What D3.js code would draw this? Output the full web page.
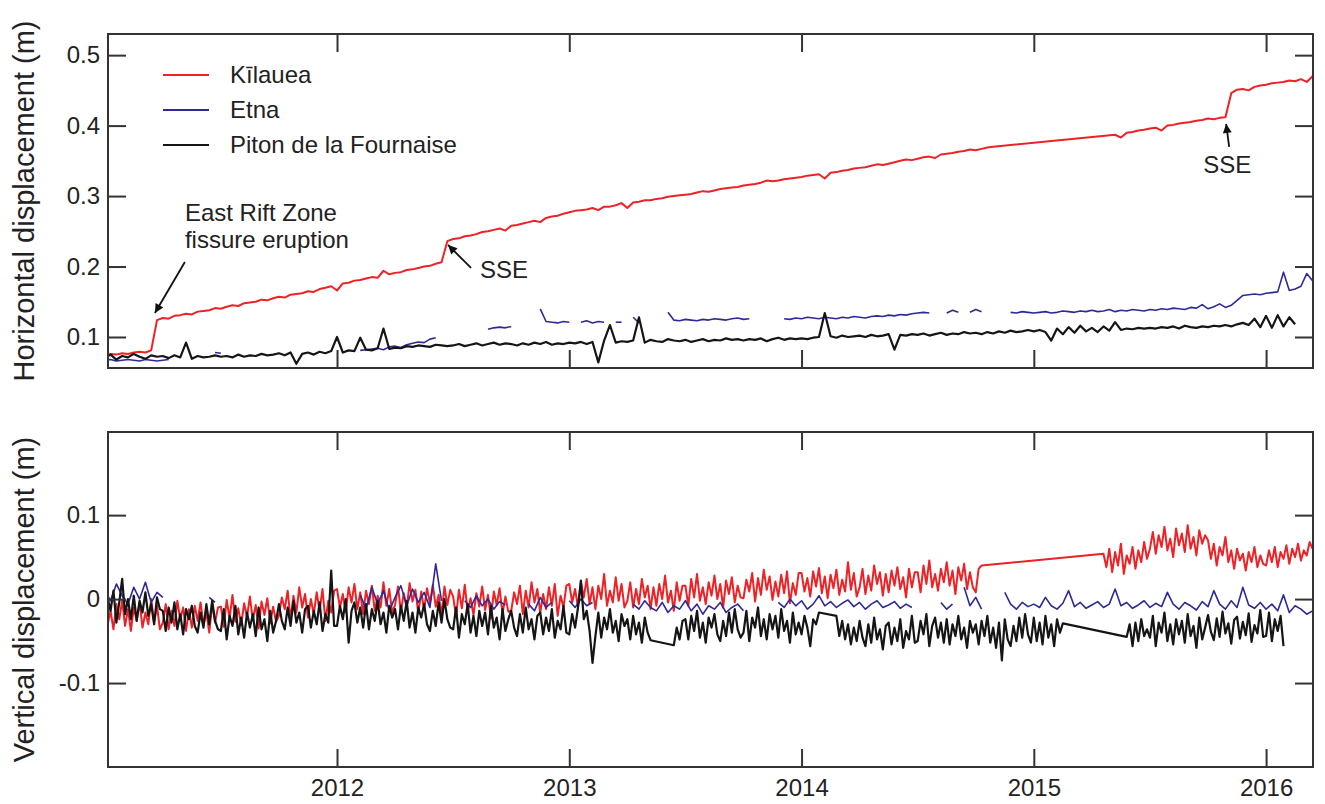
<!DOCTYPE html>
<html>
<head>
<meta charset="utf-8">
<script src="https://cdnjs.cloudflare.com/ajax/libs/d3/7.8.5/d3.min.js"></script>
<style>
  body { margin: 0; background: #fff; }
  text { font-family: "Liberation Sans", Arial, Helvetica, sans-serif; fill: #222; }
</style>
</head>
<body>
<svg id="chart" width="1325" height="804"></svg>
<script>
// each series is a list of runs [first sample index, values in mm];
// sample k of a run sits at T0 + step * (index + k)
const T0 = 2011.0, STEP = 0.025, STEP_FINE = 0.0125;

const kilaueaH = [
  [0, [74,76,75,77,76,78,79,78,81,124,
       127,126,130,131,133,132,136,137,138,141,140,143,145,144,148,149,150,153,152,155,
       157,156,160,161,162,165,164,168,170,172,
       166,176,177,180,181,183,185,184,194,189,191,192,195,196,198,200,201,204,206,236,
       239,240,243,244,246,249,250,252,254,251,258,259,261,263,265,263,269,271,272,275,277,
       279,280,281,283,280,285,285,287,290,283,291,292,294,294,296,297,299,300,301,302,
       303,305,307,306,308,310,311,312,313,315,316,317,319,322,321,322,324,325,326,327,
       329,330,331,325,333,334,336,337,339,340,341,343,345,344,346,348,350,352,351,353,
       355,356,354,359,360,361,363,364,366,365,367,369,370]],
  [174, [387,383,390,391,393,394,396,397,393,400,401,403,404,405,407,408,410,409,411,412,
         446,451,452,450,455,457,458,460,461,462,464,463,466,462,470]]
];
const etnaH = [
  [0, [67,68,66,67,68,67,66,68,67,66,67,68]],
  [19, [78,77]],
  [44, [81,82,83,84,82,86,87,85,89,91,93,92,97,99]],
  [66, [111,113,114,113,115]],
  [75, [140,122,121,120,122,121]],
  [82, [121,123,120,122,121]],
  [88, [121,121]],
  [91, [128,120]],
  [97, [135,124,123,125,124,123,125,124,126,125,124,126,127,125,126]],
  [117, [126,125,127,126,128,127,126,128,127,126,128,127,129,128,127,129,130,129,131,130,
         132,131,133,134,135,134]],
  [145, [134,138,135]],
  [149, [135,139,136]],
  [156, [135,134,136,135,134,135,136,134,135,137,136,135,137,136,138,
         136,137,139,136,138,137,139,138,137,139,138,140,139,141,140,139,142,141,146,140,
         143,147,142,145,152,159,160,161,160,162,163,164,192,166,168,172,190,180]]
];
const pitonH = [
  [0, [70,75,68,73,71,76,72,69,74,72, 73,70,74,71,92,69,73,71,72,74,
       72,73,71,75,72,74,73,76,74,75, 77,74,78,62,76,78,75,79,77,80,
       100,78,81,80,99,82,81,84,112,83, 85,84,87,86,88,87,86,89,88,87,
       88,90,87,89,91,88,90,92,89,91, 90,88,91,89,92,90,93,89,91,90,
       92,91,93,90,93,64,95,117,92,94, 93,95,128,92,96,94,93,97,95,94,
       96,93,95,97,94,96,95,98,96,97, 95,97,96,98,94,97,99,96,98,97,
       98,97,99,100,134,101,99,102,100,101, 102,100,103,101,102,104,82,103,102,104,
       103,105,102,104,106,103,105,104,107,105, 106,104,107,105,108,106,109,107,108,110,
       108,110,107,95,112,104,114,106,116,108, 113,107,115,109,121,110,112,111,113,112,
       113,112,114,113,115,112,116,114,113,115, 114,116,115,117,115,118,
       120,117,126,114,130,113,131,115,128,118]]
];

// vertical displacement (mm); Kilauea and Piton on the fine grid
const kilaueaV = [
  [0, [-8,-30,-14,-36,-6,-24,-2,-32,-12,-38,-10,-26,-4,-34,-16,-30,0,-28,-8,-36,
       -28,-6,-36,-14,-32,-2,-24,-10,-38,-12,-34,-8,-26,-4,-30,-16,-40,-6,-28,-10,
       -9,-33,-1,-23,5,-27,-11,-31,-5,-21,3,-25,-7,-35,-3,-19,1,-29,-9,-27,
       -20,2,-12,10,-24,4,-16,14,-10,6,-22,0,-18,8,-14,12,-26,-2,-16,10,
       12,-10,6,-16,14,-4,18,-12,8,-18,10,-6,16,-14,4,-10,20,-8,12,-16,
       -7,15,-15,7,-11,19,-3,11,-17,9,-13,13,-5,17,-9,5,-19,15,-7,11,
       3,-21,11,-11,17,-15,1,-19,7,-9,15,-13,5,-23,9,-7,13,-17,3,-15,
       -14,8,-6,16,-18,10,-10,20,-4,12,-16,6,-12,14,-8,18,-20,4,-10,16,
       18,-4,12,-10,20,2,24,-6,14,-12,16,0,30,-8,10,-4,26,-2,18,-10,
       -2,20,-10,12,-6,24,2,16,-12,14,-8,18,0,28,-4,10,-14,20,-2,16,
       16,-8,24,2,30,-2,14,-6,20,4,28,0,18,-10,22,6,26,-4,16,2,
       1,23,9,31,-3,25,5,35,11,27,-1,21,3,29,7,33,-5,19,5,31,
       31,9,25,3,33,15,37,7,27,1,29,13,35,5,23,9,44,11,31,3,
       14,36,6,28,10,40,18,32,4,30,8,34,16,38,12,26,2,36,14,32,
       32,8,40,18,46,14,30,10,36,20,44,16,34,6,38,22,42,12,32,14,
       8,36,40]],
  [344, [54,38,60,32,56,40,66,30,52,42,62,36,58,44,68,48,
         60,80,54,76,62,86,58,72,50,84,64,78,56,88,60,74,52,82,66,76,
         70,48,66,40,62,52,74,44,58,36,60,46,54,34,56,44,62,38,52,42,
         40,58,44,62,38,56,48,64,42,60,50,66,46,58,52,68,60]]
];
const etnaV = [
  [0, [10,-2,18,4,-6,14,0,20,-4,8,2]],
  [18, [2,-4]],
  [44, [5,-12,14,-6,10,-14,2,16,-8,12,-4,8,-10,42,-2]],
  [62, [-2,-10,4,-8,0,-12,-3,-7]],
  [73, [-6,-14,2,-10,-4]],
  [80, [-2,-10,0,-8,-4]],
  [91, [-6,-12,-2,-10,-14,-4,-16,-8,-12,-2,-14,-6,-18,-8,-12,-4,-16,-10,-6,-14]],
  [116, [-4,-10,0,-8,-2,-12,-6,4,-8,-3,-10,-5,-1,-9,-4,-12,-6,-2,-10,-7,-3,-11,-6,-10]],
  [144, [-4,-12,-6]],
  [148, [14,-8,2,-12]],
  [155, [8,-6,-12,-4,-9, -6,-10,2,-8,-12,-5,10,-9,-4,-11, -7,-3,-10,-6,12,-8,-4,-11,-7,-2,
         -10,-5,-9,8,-6,-12,-4,-8,-13,-3, -9,10,-6,-12,-2,-10,14,-7,-11,-4,
         -12,-6,-14,5,-16,-8,-12,-18,-14]]
];
const pitonV = [
  [0, [-22,2,-14,10,-28,-4,24,-18,0,-24,4,-26,-2,-16,8,-20,-6,-30,2,-12,
       -14,-38,-10,-28,-4,-36,-18,-42,-12,-24,-8,-32,-40,-16,-34,-6,-30,-2,-26,-36,
       -38,-12,-48,-20,-32,-8,-42,-22,-46,-16,-34,-18,-44,-10,-36,-24,-50,-14,-40,-26,
       -6,-26,-36,-10,-32,-2,-28,-16,-40,-12,-8,-34,-14,-30,-4,-38,-18,-28,34,-32,
       -32,-8,-24,0,-52,-14,-4,-28,-10,-34,-6,-36,-12,-26,-2,-30,-16,-40,-8,-22,
       -12,-36,-8,-26,-2,-34,-16,-40,-10,-22,-6,-30,-38,-14,-32,-4,-28,0,-24,-34,
       -36,-10,-46,-18,-30,-6,-40,-20,-44,-14,-32,-16,-42,-8,-34,-22,-48,-12,-38,-24,
       -14,-34,-44,-18,-40,-10,-36,-24,-48,-20,-16,-42,-22,-38,-12,-46,-26,-36,-8,-40,
       -42,-18,-34,-10,22,-24,-14,-38,-76,-44,-16,-46,-22,-36,-12,-40,-26,-50,-18,-32,
       -24,-48,-20,-42,-28,-52,-22,-40,-49]],
  [196, [-55,-34,-48,-26,
         -24,-48,-20,-38,-14,-46,-28,-52,-22,-34,-18,-42,-50,-26,-44,-16,-40,-12,-36,-46,
         -40,-14,-50,-22,-34,-10,-44,-24,-48,-18,-36,-20,-46,-12,-38,-26,-52,-16,-42,-28,
         -42,-20,-34,-56,-24,-30,-16]],
  [252, [-20,-44,-26,-48,-30,-54,-34,-50,
         -26,-46,-56,-30,-52,-22,-48,-36,-60,-32,-28,-54,-34,-50,-24,-58,-38,-48,-20,-52,
         -50,-26,-42,-18,-56,-32,-22,-46,-28,-52,-24,-54,-30,-44,-20,-48,-34,-58,-26,-40,
         -30,-54,-26,-44,-20,-52,-34,-58,-28,-73,-24,-48,-56,-32,-50,-22,-46,-18,-42,-52,
         -22,-50,-28,-54,-20,-46,-30,-56,-24,-40,-29]],
  [352, [-45,-30,-56,-28,-50,-24,-44,-36,
         -46,-20,-56,-28,-40,-16,-50,-30,-54,-24,-42,-26,-52,-18,-44,-32,-58,-22,-48,-34,
         -19,-39,-49,-23,-45,-15,-41,-29,-53,-25,-21,-47,-27,-43,-17,-51,-31,-41,-13,-45,
         -44,-16,-50,-24,-38,-20,-56]]
];

const names = ["K\u012blauea", "Etna", "Piton de la Fournaise"];
const colors = ["#ec2227", "#2d2a96", "#151515"];
const yearTicks = [2012, 2013, 2014, 2015, 2016];
const hTicks = [0.1, 0.2, 0.3, 0.4, 0.5];
const vTicks = [-0.1, 0, 0.1];

const svg = d3.select("#chart");
const x = d3.scaleLinear().domain([2011.014, 2016.202]).range([108, 1313]);
const yH = d3.scaleLinear().domain([0.056, 0.530]).range([368, 34]);
const yV = d3.scaleLinear().domain([-0.200, 0.199]).range([767, 432]);

svg.append("defs").append("marker")
  .attr("id", "head").attr("viewBox", "0 0 10 10").attr("refX", 10).attr("refY", 5)
  .attr("markerWidth", 13).attr("markerHeight", 9).attr("markerUnits", "userSpaceOnUse")
  .attr("orient", "auto")
  .append("path").attr("d", "M0,0L10,5L0,10z").attr("fill", "#111");

const pts = step => run => run[1].map((v, k) => [T0 + step * (run[0] + k), v / 1000]);

function drawPanel(id, y, ticks, fmt, series, title, xLabels) {
  const [b, t] = y.range(), [L, R] = x.range();
  const g = svg.append("g");
  svg.select("defs").append("clipPath").attr("id", "clip-" + id)
    .append("rect").attr("x", L).attr("y", t).attr("width", R - L).attr("height", b - t);

  const plot = g.append("g").attr("clip-path", `url(#clip-${id})`);
  const line = d3.line().x(d => x(d[0])).y(d => y(d[1]));
  series.forEach(s => {
    // Etna gaps are left open, the other stations are joined across gaps
    const toPts = pts(s.step);
    const pieces = s.joined ? [s.runs.flatMap(toPts)] : s.runs.map(toPts);
    plot.append("g").selectAll("path").data(pieces).join("path")
      .attr("d", line).attr("fill", "none")
      .attr("stroke", colors[s.c]).attr("stroke-width", s.w)
      .attr("stroke-linejoin", "round");
  });

  const axes = [
    [d3.axisLeft(y).tickValues(ticks).tickFormat(fmt).tickPadding(8), `translate(${L},0)`],
    [d3.axisRight(y).tickValues(ticks).tickFormat(""), `translate(${R},0)`],
    [d3.axisTop(x).tickValues(yearTicks).tickFormat(""), `translate(0,${t})`],
    [d3.axisBottom(x).tickValues(yearTicks).tickFormat(xLabels ? d3.format("d") : "").tickPadding(12), `translate(0,${b})`]
  ];
  axes.forEach(([ax, tr]) => {
    const a = g.append("g").attr("transform", tr).call(ax.tickSize(-18));
    a.select(".domain").remove();
    a.selectAll(".tick line").attr("stroke", "#333").attr("stroke-width", 2);
    a.selectAll(".tick text").attr("font-size", 24)
      .attr("font-family", '"Liberation Sans", Arial, sans-serif').attr("fill", "#222");
  });

  g.append("rect").attr("x", L).attr("y", t).attr("width", R - L).attr("height", b - t)
    .attr("fill", "none").attr("stroke", "#333").attr("stroke-width", 2);

  g.append("text")
    .attr("transform", `translate(34,${(b + t) / 2}) rotate(-90)`)
    .attr("text-anchor", "middle").attr("font-size", 29).text(title);
  return g;
}

const topPanel = drawPanel("h", yH, hTicks, d3.format(".1f"), [
  {runs: kilaueaH, c: 0, w: 2, step: STEP, joined: true},
  {runs: etnaH, c: 1, w: 1.6, step: STEP, joined: false},
  {runs: pitonH, c: 2, w: 2.2, step: STEP, joined: true}
], "Horizontal displacement (m)", false);

drawPanel("v", yV, vTicks, d => d === 0 ? "0" : d3.format(".1f")(d).replace("\u2212", "-"), [
  {runs: kilaueaV, c: 0, w: 2, step: STEP_FINE, joined: true},
  {runs: etnaV, c: 1, w: 1.6, step: STEP, joined: false},
  {runs: pitonV, c: 2, w: 2.2, step: STEP_FINE, joined: true}
], "Vertical displacement (m)", true);

// legend
const lg = topPanel.append("g").selectAll("g").data(names).join("g")
  .attr("transform", (d, i) => `translate(163,${75 + i * 35})`);
lg.append("line").attr("x1", 0).attr("x2", 46)
  .attr("stroke", (d, i) => colors[i]).attr("stroke-width", 2);
lg.append("text").attr("x", 67).attr("y", 8).attr("font-size", 24).text(d => d);

// annotations: [text lines, text anchor (year, m), arrow tail, arrow head]
const notes = [
  [["East Rift Zone", "fissure eruption"], [2011.345, 0.2647], [2011.345, 0.2065], [2011.216, 0.134]],
  [["SSE"], [2012.616, 0.1837], [2012.577, 0.1980], [2012.478, 0.2306]],
  [["SSE"], [2015.729, 0.3328], [2015.841, 0.3697], [2015.828, 0.4023]]
];
notes.forEach(([lines, at, tail, head]) => {
  const tx = topPanel.append("text").attr("x", x(at[0])).attr("y", yH(at[1])).attr("font-size", 24);
  lines.forEach((s, k) => tx.append("tspan").attr("x", x(at[0])).attr("dy", k ? 27 : 0).text(s));
  topPanel.append("line")
    .attr("x1", x(tail[0])).attr("y1", yH(tail[1]))
    .attr("x2", x(head[0])).attr("y2", yH(head[1]))
    .attr("stroke", "#111").attr("stroke-width", 1.8).attr("marker-end", "url(#head)");
});
</script>
</body>
</html>
